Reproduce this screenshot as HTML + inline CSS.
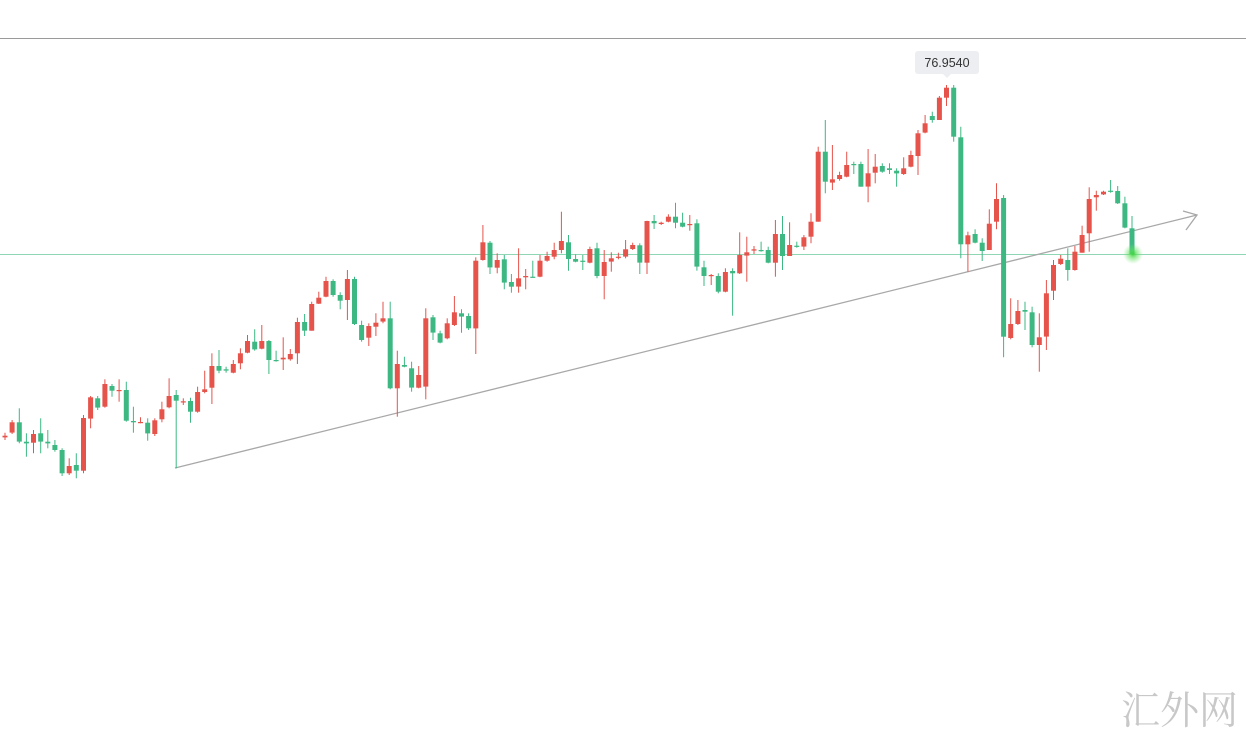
<!DOCTYPE html>
<html><head><meta charset="utf-8"><style>
html,body{margin:0;padding:0;background:#fff;width:1246px;height:739px;overflow:hidden}
svg{display:block}
</style></head><body>
<svg id="c" width="1246" height="739" xmlns="http://www.w3.org/2000/svg">
<defs>
<radialGradient id="g"><stop offset="0" stop-color="#3fd13f" stop-opacity="1"/><stop offset="0.4" stop-color="#5be05b" stop-opacity="0.6"/><stop offset="1" stop-color="#7be87b" stop-opacity="0"/></radialGradient>
</defs>
<line x1="0" y1="38.5" x2="1246" y2="38.5" stroke="#9a9a9a" stroke-width="1"/>
<line x1="0" y1="254.5" x2="1246" y2="254.5" stroke="#8fd6b4" stroke-width="1"/>
<line x1="175" y1="468" x2="1197" y2="215" stroke="#a8a8a8" stroke-width="1.3"/>
<polyline points="1183,211 1197,215 1186,230" fill="none" stroke="#a8a8a8" stroke-width="1.3"/>
<g id="cd"></g>
<circle cx="1133" cy="254" r="10" fill="url(#g)"/>
<rect x="915" y="51" width="64" height="23" rx="3" fill="#eceef1"/>
<polygon points="943,74 951,74 947,78" fill="#eceef1"/>
<text x="947" y="67" text-anchor="middle" font-family="Liberation Sans, sans-serif" font-size="12.5" fill="#333">76.9540</text>
<text x="1238" y="724" text-anchor="end" font-family="Liberation Serif, 'Noto Serif CJK SC', serif" font-size="39" fill="#c8c8c8">汇外网</text>
</svg>
<script>
// [color, bodyTop, bodyBot, wickTop, wickBot] in zoom coords
var z1=[["r",527,532,518,540],["r",487,518,480,522],["g",487,545,445,550],["g",545,550,520,590],["r",522,548,510,580],["g",520,545,475,580],["g",545,550,510,565],["g",555,570,540,575],["g",570,640,565,648],["r",618,640,595,645],["g",615,632,580,655],["r",474,632,465,640],["r",412,476,408,505],["g",415,443,408,450],["r",372,440,358,443],["g",378,392,372,410],["r",390,392,358,425],["g",390,482,365,485],["g",483,487,440,518],["r",486,488,472,490],["g",488,520,475,542],["r",481,522,475,528],["r",448,478,425,487],["r",408,442,355,445],["g",405,422,390,625],["r",424,426,415,435],["g",423,455,413,488],["r",396,455,380,458],["r",388,396,332,400],["r",318,383,280,432],["g",318,332,270,340],["g",328,332,320,338],["r",312,338,300,340],["r",280,310,265,328],["r",243,278,225,280],["g",245,268,208,272],["r",243,266,195,268],["g",243,300,240,342],["g",300,303,272,305],["r",293,298,232,330],["r",282,298,267,302],["r",186,280,173,312],["g",186,212,162,228],["r",132,212,125,212],["r",113,131,95,132],["r",63,110,50,112],["g",63,105,58,110],["g",105,122,97,148],["r",57,120,30,180],["g",57,192,50,195],["g",195,240,182,245],["r",198,233,190,258],["r",188,200,160,228],["r",175,185,125,190],["g",175,385,125,388],["r",312,385,272,470],["g",315,320,290,322],["g",325,383,305,395],["r",345,383,318,385]];
var z2=[["r",355,560,325,598],["g",352,398,345,420],["g",400,428,392,430],["r",370,415,355,418],["r",337,375,288,378],["g",340,350,328,398],["g",348,385,340,390],["r",182,385,172,462],["r",127,180,75,182],["g",128,202,123,222],["r",180,203,160,220],["g",178,248,165,268],["g",246,260,222,278],["r",235,260,145,278],["r",228,232,207,268],["g",230,232,182,232],["r",182,230,165,232],["r",168,182,155,185],["r",150,170,128,178],["r",123,150,35,160],["g",127,177,105,212],["g",177,185,163,187],["g",182,185,165,210],["r",147,188,140,190],["g",145,228,128,235],["r",186,228,150,298],["r",175,185,157,215],["r",170,173,158,178],["r",148,170,120,175],["r",135,147,128,150],["g",136,188,130,222],["r",63,188,62,222],["g",63,70,45,87],["r",68,72,65,75],["r",50,65,43,67],["g",50,68,8,85],["g",68,80,38,82],["r",72,75,45,92],["g",70,200,58,212],["g",202,228,182,258],["r",225,228,222,255],["g",228,275,220,280],["r",216,275,205,277],["g",213,220,205,347],["r",165,220,97,222],["r",157,167,110,245],["r",148,152,138,162],["g",150,152,125,155],["g",150,188,140,190],["r",102,188,60,230],["g",102,168,48,210],["r",135,168,67,168],["g",137,140,125,143]];
var z3=[["r",562,590,555,600],["r",515,560,490,580],["r",305,515,290,515],["g",305,395,210,430],["r",388,398,285,420],["r",375,387,365,392],["r",345,380,305,382],["g",342,345,335,372],["g",342,410,335,410],["r",370,410,297,457],["r",350,368,312,400],["g",348,365,340,368],["g",355,360,340,372],["g",362,370,355,410],["r",355,372,322,375],["r",315,350,302,352],["r",250,318,240,375],["r",220,248,195,250],["g",198,210,185,218],["r",143,210,138,210],["r",113,143,105,168],["g",113,260,105,275],["g",262,583,230,625],["r",556,583,545,665],["g",552,578,538,580],["g",578,603,565,633],["r",521,600,478,600],["r",447,515,400,538],["g",444,860,435,922],["r",822,864,745,868],["r",783,822,750,825],["g",780,785,755,840],["g",787,885,770,892],["r",862,885,790,965],["r",730,860,690,900],["r",645,722,630,750],["r",626,642,615,645],["g",630,660,595,692],["r",605,660,588,662],["r",555,608,527,608],["r",447,550,412,605],["r",435,442,422,482],["r",425,433,422,435],["g",422,425,390,428],["g",423,460,408,462],["g",460,533,440,535],["g",535,612,498,615]];
var all=[];
z1.forEach(function(c){all.push([c[0],260+c[1]/3,260+c[2]/3,260+c[3]/3,260+c[4]/3]);});
z2.forEach(function(c){all.push([c[0],200+c[1]/3,200+c[2]/3,200+c[3]/3,200+c[4]/3]);});
z3.forEach(function(c){all.push([c[0],50+c[1]/3,50+c[2]/3,50+c[3]/3,50+c[4]/3]);});
var n=all.length,h="";
for(var i=0;i<n;i++){
 var c=all[i],x=5+i*(1127/(n-1)),col=c[0]=="r"?"#e5534b":"#3db883";
 var bt=c[1],bb=c[2];if(bb-bt<1.2){bb=bt+1.2;}
 h+='<line x1="'+x.toFixed(1)+'" y1="'+c[3].toFixed(1)+'" x2="'+x.toFixed(1)+'" y2="'+c[4].toFixed(1)+'" stroke="'+col+'" stroke-width="1"/>';
 h+='<rect x="'+(x-2.5).toFixed(1)+'" y="'+bt.toFixed(1)+'" width="5" height="'+(bb-bt).toFixed(1)+'" fill="'+col+'"/>';
}
document.getElementById("cd").innerHTML=h;
</script>
</body></html>
